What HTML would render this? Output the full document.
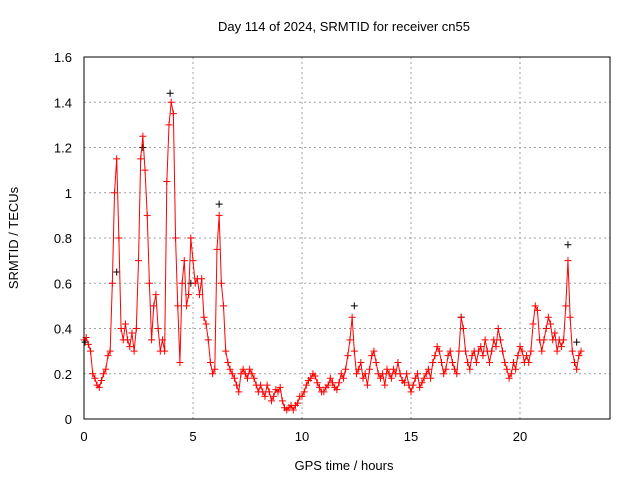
<!DOCTYPE html>
<html><head><meta charset="utf-8"><style>
body{margin:0;background:#fff}
svg{display:block;font-family:"Liberation Sans",sans-serif;font-size:13px}
</style></head><body>
<svg id="chart" width="640" height="480">
<rect width="640" height="480" fill="#fff"/>
<text x="344" y="31" text-anchor="middle">Day 114 of 2024, SRMTID for receiver cn55</text>
<text transform="translate(18,238) rotate(-90)" text-anchor="middle">SRMTID / TECUs</text>
<text x="344" y="470" text-anchor="middle">GPS time / hours</text>
<g id="grid"></g><g id="marks"></g>
<rect x="84" y="57" width="526" height="362" fill="none" stroke="#000" stroke-width="1"/>
</svg>
<script>
const xTicks=[0,5,10,15,20];
const yTicks=[0,0.2,0.4,0.6,0.8,1,1.2,1.4,1.6];
const yTickLabels=["0","0.2","0.4","0.6","0.8","1","1.2","1.4","1.6"];
const t0=0, tStep=0.1;
const redValues=[0.35,0.36,0.33,0.30,0.2,0.18,0.15,0.14,0.17,0.2,0.22,0.28,0.3,0.6,1.0,1.15,0.8,0.4,0.35,0.42,
0.35,0.32,0.38,0.3,0.4,0.7,1.15,1.25,1.1,0.9,0.6,0.35,0.5,0.55,0.4,0.3,0.35,0.3,1.05,1.3,
1.4,1.35,0.8,0.5,0.25,0.6,0.7,0.5,0.55,0.8,0.7,0.6,0.62,0.55,0.62,0.45,0.42,0.35,0.25,0.2,
0.22,0.75,0.9,0.6,0.5,0.3,0.25,0.22,0.2,0.18,0.15,0.12,0.2,0.22,0.2,0.18,0.22,0.2,0.18,0.15,
0.12,0.15,0.12,0.1,0.15,0.12,0.08,0.1,0.13,0.12,0.14,0.08,0.05,0.04,0.05,0.06,0.04,0.06,0.07,0.1,
0.1,0.12,0.15,0.17,0.18,0.2,0.19,0.16,0.14,0.12,0.12,0.14,0.15,0.18,0.16,0.14,0.13,0.16,0.2,0.18,
0.22,0.28,0.35,0.45,0.3,0.2,0.22,0.25,0.18,0.2,0.15,0.22,0.28,0.3,0.25,0.2,0.18,0.2,0.15,0.22,
0.2,0.18,0.22,0.2,0.25,0.2,0.17,0.16,0.2,0.15,0.12,0.15,0.18,0.2,0.14,0.16,0.18,0.2,0.22,0.18,
0.25,0.28,0.32,0.3,0.25,0.2,0.22,0.28,0.3,0.25,0.22,0.2,0.3,0.45,0.4,0.3,0.25,0.22,0.28,0.3,
0.25,0.3,0.32,0.28,0.35,0.3,0.25,0.3,0.35,0.32,0.4,0.35,0.3,0.25,0.22,0.18,0.2,0.25,0.22,0.28,
0.32,0.3,0.25,0.28,0.25,0.3,0.42,0.5,0.48,0.35,0.3,0.35,0.4,0.45,0.42,0.35,0.38,0.3,0.35,0.32,
0.35,0.5,0.7,0.45,0.3,0.25,0.22,0.28,0.3];
const blackTimes=[0.05,1.5,2.7,3.95,4.9,6.2,12.4,17.3,22.2,22.6];
const blackValues=[0.34,0.65,1.2,1.44,0.6,0.95,0.5,0.45,0.77,0.34];
const X=v=>84+v*21.8, Y=v=>419-v*226.25;
const ns="http://www.w3.org/2000/svg";
const grid=document.getElementById('grid'), marks=document.getElementById('marks');
function mk(tag,attrs,parent){const e=document.createElementNS(ns,tag);for(const k in attrs)e.setAttribute(k,attrs[k]);parent.appendChild(e);return e;}
xTicks.forEach(v=>{
 if(v>0){const g=mk('line',{x1:X(v),x2:X(v),y1:57,y2:419,stroke:'#a0a0a0','stroke-dasharray':'2,3'},grid);
 
 }
 const t=mk('text',{x:X(v),y:441,'text-anchor':'middle'},grid);t.textContent=v;
 
 
});
yTicks.forEach((v,i)=>{
 if(v>0&&v<1.6){const g=mk('line',{x1:84,x2:610,y1:Y(v),y2:Y(v),stroke:'#a0a0a0','stroke-dasharray':'2,3'},grid);
 
 }
 const t=mk('text',{x:72,y:Y(v)+5,'text-anchor':'end'},grid);t.textContent=yTickLabels[i];
 
 
});
function plus(x,y,c){const p=mk('path',{d:`M${x-3.5},${y}h7M${x},${y-3.5}v7`,stroke:c,'stroke-width':1,fill:'none'},marks);return p;}
blackValues.forEach((v,i)=>{const p=plus(X(blackTimes[i]),Y(v),'#000');
 
 });
const pl=mk('polyline',{points:redValues.map((v,i)=>X(t0+i*tStep)+','+Y(v)).join(' '),fill:'none',stroke:'#f00','stroke-width':1},marks);


redValues.forEach((v,i)=>{const p=plus(X(t0+i*tStep),Y(v),'#f00');
 
 });
</script>
</body></html>
